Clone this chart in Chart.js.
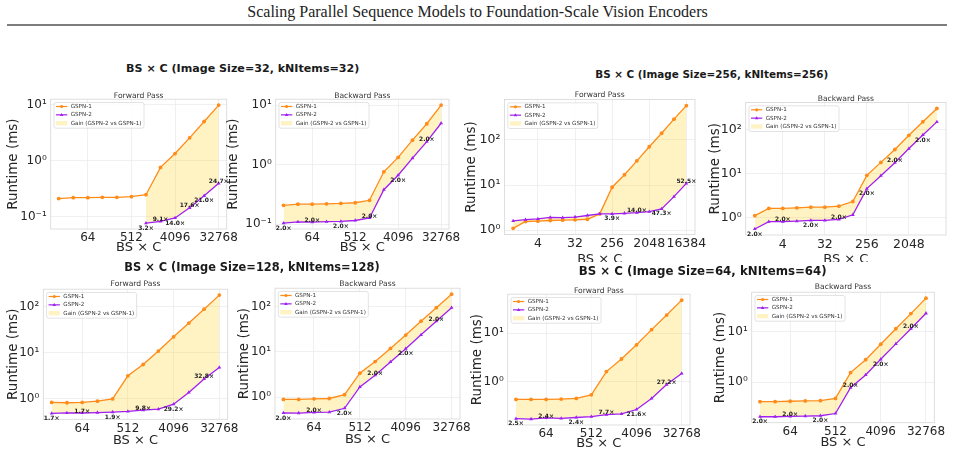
<!DOCTYPE html>
<html lang="en">
<head>
<meta charset="UTF-8">
<title>Scaling Parallel Sequence Models</title>
<script src="https://cdn.jsdelivr.net/npm/chart.js@4"></script>
<style>
  html, body { margin: 0; overflow: hidden; }
  body { width: 955px; height: 456px; background: #fff; position: relative; font-family: "DejaVu Sans", sans-serif; }
  .header { position: absolute; left: 0; width: 955px; top: 4.2px; line-height: 1; text-align: center;
            font-family: "Liberation Serif", serif; font-size: 16px; color: #222; }
  .rule { position: absolute; left: 7px; width: 940px; top: 23.5px; height: 2px; background: #7d7d7d; }
  .grp { position: absolute; line-height: 1; font-weight: bold; color: #1a1a1a; white-space: nowrap;
         transform: translate(-50%, -50%); }
  .cover { position: absolute; background: #fff; }
  canvas { position: absolute; }
</style>
</head>
<body>
<div class="header">Scaling Parallel Sequence Models to Foundation-Scale Vision Encoders</div>
<div class="rule"></div>

<script>
// ---- data ----
const sizes12 = [16, 32, 64, 128, 256, 512, 1024, 2048, 4096, 8192, 16384, 32768];
const sizes15 = [1, 2, 4, 8, 16, 32, 64, 128, 256, 512, 1024, 2048, 4096, 8192, 16384];
const sizes14 = [1, 2, 4, 8, 16, 32, 64, 128, 256, 512, 1024, 2048, 4096, 8192];

const xTicks12 = [64, 512, 4096, 32768];
const xTicks15 = [4, 32, 256, 2048, 16384];
const xTicks14 = [4, 32, 256, 2048];
const yTicks32 = [0.1, 1, 10];
const yTicks256 = [1, 10, 100];
const yTicks128 = [1, 10, 100];
const yTicks64 = [1, 10];

// Image Size = 32
const fwd32_g1 = [0.212, 0.22, 0.22, 0.223, 0.223, 0.229, 0.248, 0.76, 1.34, 2.55, 4.98, 9.75];
const fwd32_g2 = [null, null, null, null, null, null, 0.0775, 0.0835, 0.0957, 0.145, 0.237, 0.395];
const fwd32_gain = [null, null, null, null, null, null, 3.2, 9.1, 14.0, 17.6, 21.0, 24.7];
const bwd32_g1 = [0.207, 0.217, 0.217, 0.22, 0.223, 0.229, 0.252, 0.76, 1.33, 2.59, 4.9, 10.1];
const bwd32_g2 = [0.104, 0.109, 0.108, 0.11, 0.111, 0.115, 0.127, 0.38, 0.665, 1.29, 2.45, 5.0];
const bwd32_gain = [2.0, null, 2.0, null, 2.0, null, 2.0, null, 2.0, null, 2.0, null];

// Image Size = 256
const fwd256_g1 = [1.10, 1.56, 1.59, 1.64, 1.67, 1.70, 1.75, 2.30, 8.94, 16.9, 34.3, 70.3, 140, 287, 571];
const fwd256_g2 = [1.61, 1.72, 1.78, 1.93, 1.90, 1.96, 2.12, 2.30, 2.30, 2.37, 2.45, 2.57, 2.96, 5.53, 10.9];
const fwd256_gain = [null, null, null, null, null, null, null, null, 3.9, null, 14.0, null, 47.3, null, 52.5];
const bwd256_g1 = [1.12, 1.64, 1.64, 1.69, 1.75, 1.75, 1.84, 2.35, 9.2, 18.1, 35.5, 74.3, 151, 301];
const bwd256_g2 = [0.56, 0.82, 0.82, 0.845, 0.875, 0.875, 0.92, 1.175, 4.6, 9.05, 17.75, 37.2, 75.5, 150];
const bwd256_gain = [2.0, null, 2.0, null, 2.0, null, 2.0, null, 2.0, null, 2.0, null, 2.0, null];

// Image Size = 128
const fwd128_g1 = [0.838, 0.825, 0.838, 0.893, 1.0, 3.18, 5.6, 11.0, 22.4, 44.7, 89.3, 181];
const fwd128_g2 = [0.484, 0.495, 0.493, 0.505, 0.517, 0.534, 0.571, 0.597, 0.767, 1.38, 2.72, 4.84];
const fwd128_gain = [1.7, null, 1.7, null, 1.9, null, 9.8, null, 29.2, null, 32.8, null];
const bwd128_g1 = [0.887, 0.887, 0.916, 0.93, 1.13, 3.36, 6.08, 11.9, 23.4, 47.4, 94.6, 188];
const bwd128_g2 = [0.444, 0.443, 0.458, 0.465, 0.565, 1.68, 3.04, 5.95, 11.7, 23.7, 47.3, 94];
const bwd128_gain = [2.0, null, 2.0, null, 2.0, null, 2.0, null, 2.0, null, 2.0, null];

// Image Size = 64
const fwd64_g1 = [0.43, 0.43, 0.43, 0.437, 0.45, 0.533, 1.61, 2.93, 5.75, 11.8, 23.6, 47.9];
const fwd64_g2 = [0.172, 0.169, 0.178, 0.174, 0.182, 0.19, 0.209, 0.216, 0.266, 0.45, 0.868, 1.47];
const fwd64_gain = [2.5, null, 2.4, null, 2.4, null, 7.7, null, 21.6, null, 27.2, null];
const bwd64_g1 = [0.412, 0.412, 0.419, 0.425, 0.431, 0.478, 1.56, 2.81, 5.71, 11.6, 23.2, 47.1];
const bwd64_g2 = [0.206, 0.206, 0.21, 0.213, 0.216, 0.239, 0.78, 1.4, 2.86, 5.8, 11.6, 23.5];
const bwd64_gain = [2.0, null, 2.0, null, 2.0, null, 2.0, null, 2.0, null, 2.0, null];

const groupTitles = [
  { text: 'BS × C (Image Size=32, kNItems=32)', x: 242.7, y: 69.3, size: 11.1 },
  { text: 'BS × C (Image Size=256, kNItems=256)', x: 711.7, y: 74, size: 10.4 },
  { text: 'BS × C (Image Size=128, kNItems=128)', x: 252, y: 268.3, size: 11.4 },
  { text: 'BS × C (Image Size=64, kNItems=64)', x: 702.7, y: 271.7, size: 11.8 }
];

// ---- layout: plot box [left, top, right, bottom] and title anchors ----
const panels = [
  { title: 'Forward Pass', xs: sizes12, g1: fwd32_g1, g2: fwd32_g2, gain: fwd32_gain, xt: xTicks12, yt: yTicks32,
    plot: [50.7, 96, 226.7, 229], yTitleX: 12.7, titleY: 92.7, xTitleY: 247.5, tick: 12 },
  { title: 'Backward Pass', xs: sizes12, g1: bwd32_g1, g2: bwd32_g2, gain: bwd32_gain, xt: xTicks12, yt: yTicks32,
    plot: [275.7, 96, 449, 229], yTitleX: 233, titleY: 92, xTitleY: 247.5, tick: 12 },
  { title: 'Forward Pass', xs: sizes15, g1: fwd256_g1, g2: fwd256_g2, gain: fwd256_gain, xt: xTicks15, yt: yTicks256,
    plot: [504.5, 97.5, 695, 234.5], yTitleX: 470.7, titleY: 92, xTitleY: 259, tick: 12.5 },
  { title: 'Backward Pass', xs: sizes14, g1: bwd256_g1, g2: bwd256_g2, gain: bwd256_gain, xt: xTicks14, yt: yTicks256,
    plot: [745.7, 99, 946, 235], yTitleX: 715.3, titleY: 95, xTitleY: 259, tick: 12.5 },
  { title: 'Forward Pass', xs: sizes12, g1: fwd128_g1, g2: fwd128_g2, gain: fwd128_gain, xt: xTicks12, yt: yTicks128,
    plot: [43.3, 287.3, 227.7, 419.3], yTitleX: 12.7, titleY: 282.7, xTitleY: 440, tick: 12 },
  { title: 'Backward Pass', xs: sizes12, g1: bwd128_g1, g2: bwd128_g2, gain: bwd128_gain, xt: xTicks12, yt: yTicks128,
    plot: [275, 285.7, 460, 419], yTitleX: 243.7, titleY: 281.7, xTitleY: 439, tick: 12 },
  { title: 'Forward Pass', xs: sizes12, g1: fwd64_g1, g2: fwd64_g2, gain: fwd64_gain, xt: xTicks12, yt: yTicks64,
    plot: [507.7, 291, 690, 425], yTitleX: 476.7, titleY: 287.3, xTitleY: 443, tick: 12 },
  { title: 'Backward Pass', xs: sizes12, g1: bwd64_g1, g2: bwd64_g2, gain: bwd64_gain, xt: xTicks12, yt: yTicks64,
    plot: [751.7, 290.7, 934.3, 422.7], yTitleX: 720.3, titleY: 285.7, xTitleY: 442, tick: 12 }
];

const ORANGE = '#ff8c1a';
const PURPLE = '#a020f0';
const GAINFILL = 'rgba(255, 210, 40, 0.28)';
const FONT = '"DejaVu Sans", sans-serif';

Chart.defaults.font.family = FONT;

const SUP = { '-': '⁻', '0': '⁰', '1': '¹', '2': '²', '3': '³' };
function pow10Label(v) {
  const e = Math.round(Math.log10(v));
  return '10' + String(e).split('').map(c => SUP[c]).join('');
}

const framePlugin = {
  id: 'frame',
  beforeDatasetsDraw(c) {
    const { ctx, chartArea: a } = c;
    ctx.save();
    ctx.strokeStyle = '#d6d6d6';
    ctx.lineWidth = 0.8;
    ctx.strokeRect(a.left, a.top, a.right - a.left, a.bottom - a.top);
    ctx.restore();
  }
};

const gainPlugin = {
  id: 'gainLabels',
  afterDatasetsDraw(c, args, o) {
    const meta = c.getDatasetMeta(1);
    const ctx = c.ctx;
    ctx.save();
    ctx.font = 'bold 6px ' + FONT;
    ctx.fillStyle = '#222';
    ctx.textAlign = 'center';
    ctx.textBaseline = 'middle';
    let k = 0;
    o.gains.forEach((g, i) => {
      if (g == null) return;
      const pt = meta.data[i];
      ctx.fillText(g.toFixed(1) + '×', pt.x, pt.y + (k % 2 === 0 ? 5 : -2));
      k++;
    });
    ctx.restore();
  }
};

const legendPlugin = {
  id: 'boxLegend',
  afterDraw(c) {
    const ctx = c.ctx, a = c.chartArea;
    const names = ['GSPN-1', 'GSPN-2', 'Gain (GSPN-2 vs GSPN-1)'];
    ctx.save();
    ctx.font = '5.6px ' + FONT;
    const tw = Math.max(...names.map(n => ctx.measureText(n).width));
    const x0 = a.left + 3.3, y0 = a.top + 3.3;
    const w = 16.7 + tw + 2.5, h = 25.7;
    ctx.beginPath();
    if (ctx.roundRect) ctx.roundRect(x0, y0, w, h, 2); else ctx.rect(x0, y0, w, h);
    ctx.fillStyle = 'rgba(255,255,255,0.85)';
    ctx.fill();
    ctx.strokeStyle = '#d0d0d0';
    ctx.lineWidth = 0.6;
    ctx.stroke();
    names.forEach((n, i) => {
      const cy = y0 + 4 + 8.35 * i;
      const lx = x0 + 2, rx = x0 + 13.3, mx = (lx + rx) / 2;
      if (i < 2) {
        const col = i === 0 ? ORANGE : PURPLE;
        ctx.strokeStyle = col;
        ctx.lineWidth = 1.2;
        ctx.beginPath(); ctx.moveTo(lx, cy); ctx.lineTo(rx, cy); ctx.stroke();
        ctx.fillStyle = col;
        ctx.beginPath();
        if (i === 0) ctx.arc(mx, cy, 1.6, 0, Math.PI * 2);
        else { ctx.moveTo(mx, cy - 1.9); ctx.lineTo(mx + 1.8, cy + 1.2); ctx.lineTo(mx - 1.8, cy + 1.2); ctx.closePath(); }
        ctx.fill();
      } else {
        ctx.fillStyle = GAINFILL;
        ctx.fillRect(lx, cy - 2.2, rx - lx, 4.4);
      }
      ctx.fillStyle = '#333';
      ctx.textAlign = 'left';
      ctx.textBaseline = 'middle';
      ctx.fillText(n, x0 + 16.7, cy);
    });
    ctx.restore();
  }
};

function logRange(values) {
  const v = values.filter(d => d != null);
  const lo = Math.log10(Math.min(...v)), hi = Math.log10(Math.max(...v));
  const m = (hi - lo) * 0.05;
  return [Math.pow(10, lo - m), Math.pow(10, hi + m)];
}
function log2Range(values) {
  const lo = Math.log2(values[0]), hi = Math.log2(values[values.length - 1]);
  const m = (hi - lo) * 0.05;
  return [Math.pow(2, lo - m), Math.pow(2, hi + m)];
}

function makePanel(p) {
  const [pl, pt, pr, pb] = p.plot;
  const L = Math.round(p.yTitleX - 8.1);
  const T = Math.round(p.titleY - 4.5);
  const R = Math.round(pr + 24);
  const B = Math.round(p.xTitleY + 7.8);
  const cv = document.createElement('canvas');
  cv.width = R - L;
  cv.height = B - T;
  cv.style.left = L + 'px';
  cv.style.top = T + 'px';
  document.body.appendChild(cv);

  const [xmin, xmax] = log2Range(p.xs);
  const [ymin, ymax] = logRange(p.g1.concat(p.g2));

  new Chart(cv, {
    type: 'line',
    data: {
      datasets: [
        {
          label: 'GSPN-1',
          data: p.xs.map((x, i) => ({ x: x, y: p.g1[i] })),
          borderColor: ORANGE, borderWidth: 1.3,
          pointStyle: 'circle', pointRadius: 1.9, pointBackgroundColor: ORANGE, pointBorderWidth: 0,
          fill: false, tension: 0, order: 2
        },
        {
          label: 'GSPN-2',
          data: p.xs.map((x, i) => ({ x: x, y: p.g2[i] })),
          borderColor: PURPLE, borderWidth: 1.3, backgroundColor: GAINFILL,
          pointStyle: 'triangle', pointRadius: 2.2, pointBackgroundColor: PURPLE, pointBorderWidth: 0,
          fill: { target: 0 }, spanGaps: false, tension: 0, order: 1
        }
      ]
    },
    options: {
      responsive: false,
      animation: false,
      devicePixelRatio: 1,
      events: [],
      layout: { padding: { left: 0, top: 0, right: R - pr, bottom: 0 } },
      plugins: {
        legend: { display: false },
        tooltip: { enabled: false },
        filler: { drawTime: 'beforeDatasetsDraw' },
        title: {
          display: true, text: p.title, color: '#333', fullSize: false,
          font: { size: 7.6, weight: 'normal' },
          padding: { top: 0, bottom: pt - T - 9.1 }
        },
        gainLabels: { gains: p.gain }
      },
      scales: {
        x: {
          type: 'logarithmic', min: xmin, max: xmax, bounds: 'data',
          afterBuildTicks: s => { s.ticks = p.xt.map(v => ({ value: v })); },
          afterFit: s => { s.height = B - pb; },
          ticks: { callback: v => String(v), autoSkip: false, maxRotation: 0, padding: 2,
                   color: '#262626', font: { size: p.tick } },
          grid: { color: '#ececec', lineWidth: 0.8, drawTicks: false },
          border: { display: false },
          title: { display: true, text: 'BS × C', color: '#262626', font: { size: 13 }, padding: 0 }
        },
        y: {
          type: 'logarithmic', min: ymin, max: ymax, bounds: 'data',
          afterBuildTicks: s => { s.ticks = p.yt.map(v => ({ value: v })); },
          afterFit: s => { s.width = pl - L; },
          ticks: { callback: v => pow10Label(v), autoSkip: false, padding: 4,
                   color: '#262626', font: { size: p.tick } },
          grid: { color: '#ececec', lineWidth: 0.8, drawTicks: false },
          border: { display: false },
          title: { display: true, text: 'Runtime (ms)', color: '#262626', font: { size: 13.5 }, padding: 0 }
        }
      }
    },
    plugins: [framePlugin, gainPlugin, legendPlugin]
  });
}

panels.slice(0, 4).forEach(makePanel);

// the lower-right figure sits over the bottom of the upper-right x labels
const cover = document.createElement('div');
cover.className = 'cover';
Object.assign(cover.style, { left: '468px', top: '261.5px', width: '487px', height: '6px' });
document.body.appendChild(cover);

panels.slice(4).forEach(makePanel);

groupTitles.forEach(g => {
  const d = document.createElement('div');
  d.className = 'grp';
  d.textContent = g.text;
  d.style.left = g.x + 'px';
  d.style.top = g.y + 'px';
  d.style.fontSize = g.size + 'px';
  document.body.appendChild(d);
});
</script>
</body>
</html>
